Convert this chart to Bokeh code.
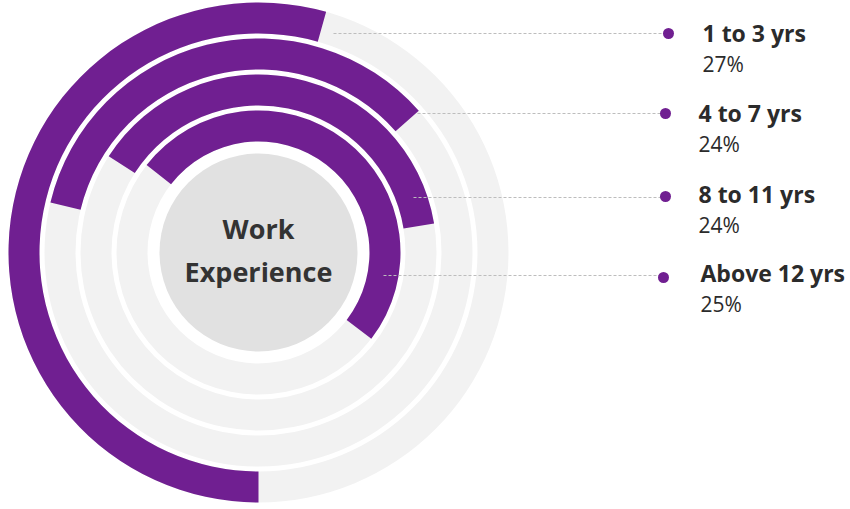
from bokeh.plotting import figure
from bokeh.models import Range1d, ColumnDataSource
from bokeh.core.properties import value
from bokeh.embed import file_html
from bokeh.resources import INLINE

# ---- data ----
categories = ["1 to 3 yrs", "4 to 7 yrs", "8 to 11 yrs", "Above 12 yrs"]
shares = [27, 24, 24, 25]
arc_start_deg = [74.3, 41.5, 9.4, -37.4]      # where each purple arc ends (clockwise end)
arc_end_deg = [270.0, 166.5, 147.3, 142.0]    # where each purple arc begins
center_title = ["Work", "Experience"]

# ---- styling / layout ----
PURPLE = "#701f91"
TRACK = "#f2f2f2"
HUB = "#e1e1e1"
TEXT = "#2b2b2b"
DASH = "#bdbdbd"
FONT = value("Open Sans")

W, H = 850, 505
OX, OY = 0, 0              # screen position of the figure's top-left corner
CX, CY = 258, 252          # screen position of the ring centre
TXT_SHIFT = 9              # baseline correction for the svg text renderer
outer_r = [250, 214, 178, 142]
thick = 31
hub_r = 99

p = figure(width=W, height=H, output_backend="svg", toolbar_location=None,
           x_range=Range1d(OX - CX, OX + W - CX), y_range=Range1d(CY - OY - H, CY - OY),
           x_axis_type=None, y_axis_type=None, min_border=0)
p.grid.visible = False
p.outline_line_color = None
p.background_fill_color = "white"
p.border_fill_color = "white"

inner_r = [r - thick for r in outer_r]
src = ColumnDataSource(dict(
    x=[0] * len(categories), y=[0] * len(categories),
    inner=inner_r, outer=outer_r,
    start=arc_start_deg, end=arc_end_deg,
    cat=categories, share=shares))

# grey tracks
p.annulus(x="x", y="y", inner_radius="inner", outer_radius="outer", source=src,
          fill_color=TRACK, line_color=None)
# purple arcs
p.annular_wedge(x="x", y="y", inner_radius="inner", outer_radius="outer",
                start_angle="start", end_angle="end",
                start_angle_units="deg", end_angle_units="deg",
                direction="anticlock", source=src,
                fill_color=PURPLE, line_color=None)
# hub
p.circle(x=[0], y=[0], radius=hub_r, fill_color=HUB, line_color=None)
p.text(x=[0, 0], y=[CY - 237 + TXT_SHIFT, CY - 280 + TXT_SHIFT], text=center_title,
       text_align="center", text_baseline="alphabetic",
       text_font=FONT, text_font_style="bold", text_font_size="27px",
       text_color="#333333")

# legend / leader lines (screen positions)
line_start_sx = [333, 417, 413, 383]
line_sy = [33, 113, 197, 275]
dot_sx = [668, 665, 665, 663]
dot_sy = [33, 113, 196, 277]
label_sx = [702, 698, 698, 700]
label_base = [41, 121, 202, 281]
pct_base = [72, 152, 233, 312]

p.segment(x0=[s - CX for s in line_start_sx], y0=[CY - s for s in line_sy],
          x1=[s - CX for s in dot_sx], y1=[CY - s for s in line_sy],
          line_color=DASH, line_width=1, line_dash="3 2")
p.scatter(x=[s - CX for s in dot_sx], y=[CY - s for s in dot_sy], size=11,
          marker="circle", fill_color=PURPLE, line_color=None)
p.text(x=[s - CX for s in label_sx], y=[CY - b + TXT_SHIFT for b in label_base], text=categories,
       text_align="left", text_baseline="alphabetic",
       text_font=FONT, text_font_style="bold", text_font_size="23px",
       text_color=TEXT)
p.text(x=[s - CX for s in label_sx], y=[CY - b + TXT_SHIFT for b in pct_base],
       text=[f"{s}%" for s in shares],
       text_align="left", text_baseline="alphabetic",
       text_font=FONT, text_font_size="21px", text_color=TEXT)

open("out.html", "w").write(file_html(p, INLINE))
